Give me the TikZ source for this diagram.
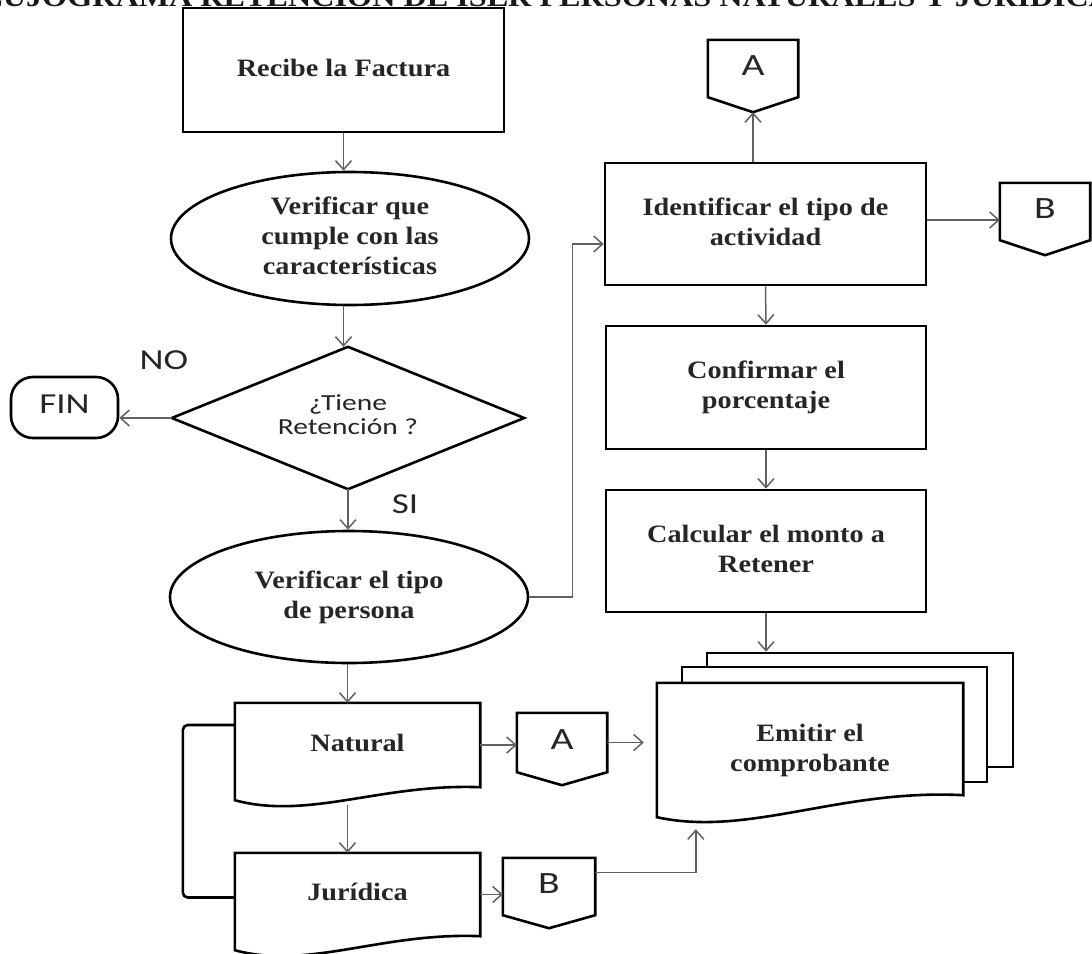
\documentclass[tikz,border=0pt]{standalone}
\usepackage{graphicx}
\usepackage{fontspec}
\setmainfont{Liberation Serif}
\newfontfamily\sansf{Carlito}
\usetikzlibrary{arrows.meta,calc,shapes.geometric}

\newcommand{\sx}[1]{\scalebox{1.13}[1]{\begin{tabular}{@{}c@{}}#1\end{tabular}}}
\newcommand{\sy}[1]{\scalebox{1.28}[1]{\begin{tabular}{@{}c@{}}#1\end{tabular}}}

\tikzset{
 shp/.style={draw=black,line width=2.6pt,line join=miter},
 txt/.style={align=center,font=\bfseries\fontsize{25}{30}\selectfont,text=black!85},
 procbox/.style={shp,txt,rectangle,inner sep=0pt},
 oval/.style={shp,txt,ellipse,inner sep=0pt},
 ghost/.style={rectangle,inner sep=0pt,draw=none},
 lbl/.style={font=\sansf\fontsize{29}{32}\selectfont,text=black!85},
 conlbl/.style={ghost,font=\sansf\fontsize{31}{33}\selectfont,text=black!85},
 conn/.style={draw=black!62,line width=1.5pt,-{Straight Barb[length=9pt,width=16pt,line width=1.5pt]}},
 bracketline/.style={draw=black,line width=2.6pt,rounded corners=5pt},
}

\newcommand{\mydoc}[4]{%
 \path[shp,#4] (#1.north west) -- (#1.north east) -- (#1.south east)
   .. controls ($(#1.south west)!0.6!(#1.south east)+(0,-0.3*#2)$) and ($(#1.south west)!0.3!(#1.south east)+(0,#2+#3)$)
   .. ($(#1.south west)+(0,#2)$) -- cycle;}
\newcommand{\offpage}[2]{%
 \draw[shp] (#1.north west) -- (#1.north east) -- (#1.south east) -- ($(#1.south)+(0,#2)$) -- (#1.south west) -- cycle;}

\begin{document}
\begin{tikzpicture}[x=1pt,y=-1pt]
\useasboundingbox (0,0) rectangle (1092,953);
\clip (0,0) rectangle (1092,953);
\fill[white] (0,0) rectangle (1092,953);

% title (cut at top, as in the reference)
\node[font=\bfseries\fontsize{28}{30}\selectfont,anchor=base,text=black!90,inner sep=0pt] (title) at (546,6.5) {\scalebox{1.15}[1]{FLUJOGRAMA RETENCIÓN DE ISLR PERSONAS NATURALES Y JURÍDICAS}};

% left column
\node[procbox,minimum width=321pt,minimum height=124pt] (rec) at (343.5,70) {\sx{Recibe la Factura}};
\node[oval,minimum width=358pt,minimum height=133pt] (ver1) at (350,238.5) {\sx{Verificar que\\cumple con las\\características}};
\node[ghost,minimum width=352pt,minimum height=142pt,font=\sansf\fontsize{23}{24}\selectfont,text=black!85] (dec) at (348,418) {\sy{¿Tiene\\Retención ?}};
\draw[shp] (dec.north) -- (dec.east) -- (dec.south) -- (dec.west) -- cycle;
\node[shp,rounded corners=22pt,minimum width=107pt,minimum height=61pt,inner sep=0pt,lbl] (fin) at (64.5,407.5) {\sy{FIN}};
\node[lbl] (no) at (164,363) {\sy{NO}};
\node[lbl] (si) at (405,507) {\sy{SI}};
\node[oval,minimum width=358pt,minimum height=132pt] (ver2) at (349,597) {\sx{Verificar el tipo\\de persona}};

% documents Natural / Juridica
\node[ghost,txt,minimum width=245pt,minimum height=84pt] (nat) at (357.5,745) {\sx{Natural}};
\mydoc{nat}{13}{20}{}
\node[ghost,txt,minimum width=245pt,minimum height=83pt] (jur) at (357.5,894.5) {\sx{Jurídica}};
\mydoc{jur}{14}{20}{}
\draw[bracketline] ($(nat.west)+(0,-20)$) -- ++(-52,0) |- ($(jur.west)+(0,3)$);

% off-page connectors
\node[conlbl,minimum width=90pt,minimum height=57pt] (atop) at (753,68.5) {\sy{A}};
\offpage{atop}{15}
\node[conlbl,minimum width=90pt,minimum height=57pt] (bright) at (1045,211.5) {\sy{B}};
\offpage{bright}{15}
\node[conlbl,minimum width=90pt,minimum height=59pt] (abot) at (562,742.5) {\sy{A}};
\offpage{abot}{13}
\node[conlbl,minimum width=92pt,minimum height=57pt] (bbot) at (549,886.5) {\sy{B}};
\offpage{bbot}{13}

% right column
\node[procbox,minimum width=321pt,minimum height=122pt] (ident) at (765.5,224) {\sx{Identificar el tipo de\\actividad}};
\node[procbox,minimum width=320pt,minimum height=123pt] (conf) at (766,387.5) {\sx{Confirmar el\\porcentaje}};
\node[procbox,minimum width=320pt,minimum height=122pt] (calc) at (766,551) {\sx{Calcular el monto a\\Retener}};

% multi-document
\node[shp,fill=white,minimum width=306pt,minimum height=114pt] (sheetb) at (860,710) {};
\node[shp,fill=white,minimum width=305pt,minimum height=115pt] (sheetm) at (834.5,724.5) {};
\node[ghost,minimum width=306pt,minimum height=112pt] (emit) at (810,739) {};
\mydoc{emit}{22}{20}{fill=white}
\node[txt] (emittxt) at (810,750) {\sx{Emitir el\\comprobante}};

% connectors
\coordinate (atoptip) at ($(atop.south)+(0,15)$);
\coordinate (natbot) at ($(nat.south)+(-10,18)$);
\draw[conn] (rec.south) -- (rec.south |- ver1.north);
\draw[conn] (ver1.south -| rec.south) -- (rec.south |- dec.north);
\draw[conn] (dec.west) -- (dec.west -| fin.east);
\draw[conn] (dec.south) -- (ver2.north -| dec.south);
\draw[conn] (ver2.east) -- ++(43,0) |- ($(ident.west)+(0,20)$);
\draw[conn] (ident.north -| atop) -- (atoptip);
\draw[conn] ($(ident.east)+(0,-4)$) -- ($(ident.east -| bright.west)+(0,-4)$);
\draw[conn] (ident.south) -- (conf.north);
\draw[conn] (conf.south) -- (calc.north);
\draw[conn] (calc.south) -- (calc.south |- sheetb.north);
\draw[conn] (natbot |- ver2.south) -- (natbot |- nat.north);
\draw[conn] (nat.east) -- (nat.east -| abot.west);
\draw[conn] (abot.east) -- ($(abot.east -| emit.west)+(-13,0)$);
\draw[conn] (natbot) -- (natbot |- jur.north);
\draw[conn] (jur.east) -- (jur.east -| bbot.west);
\draw[conn] ($(bbot.east)+(0,-14)$) -| ($(emit.south west)+(39,34)$);
\end{tikzpicture}
\end{document}
